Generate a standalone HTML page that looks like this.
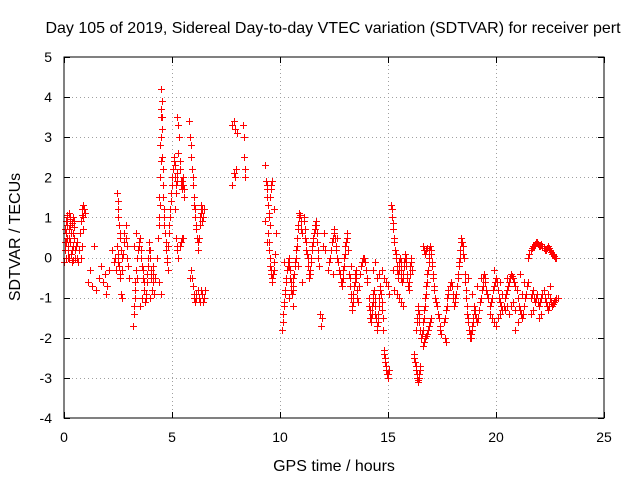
<!DOCTYPE html>
<html><head><meta charset="utf-8"><style>
html,body{margin:0;padding:0;background:#fff;}
svg text{font-family:"Liberation Sans",Arial,sans-serif;font-size:14px;fill:#000;}
svg text.big{font-size:16px;}
</style></head><body>
<svg id="chart" width="640" height="480" viewBox="0 0 640 480" xmlns="http://www.w3.org/2000/svg">
<rect width="640" height="480" fill="#fff"/>
<text class="big" x="333" y="33" text-anchor="middle">Day 105 of 2019, Sidereal Day-to-day VTEC variation (SDTVAR) for receiver pert</text>
<g id="grid"></g>
<g id="ticks"></g>
<g id="points"></g>
<rect x="64" y="57" width="540" height="361" fill="none" stroke="#000" stroke-width="1"/>
<text class="big" x="334" y="471" text-anchor="middle">GPS time / hours</text>
<text class="big" x="20" y="237" text-anchor="middle" transform="rotate(-90 20 237)">SDTVAR / TECUs</text>
</svg>
<script>
const xTicks = [0,5,10,15,20,25];
const yTicks = [-4,-3,-2,-1,0,1,2,3,4,5];
const seriesData = "0.02,-0.1 0.05,0.2 0.08,0.6 0.1,0.9 0.12,1.0 0.15,0.5 0.18,0.0 0.2,0.3 0.22,0.7 0.25,1.1 0.28,0.8 0.3,0.4 0.33,0.1 0.35,-0.1 0.38,0.2 0.4,0.6 0.42,1.0 0.45,0.9 0.48,0.5 0.5,0.2 0.05,0.7 0.1,0.4 0.15,1.05 0.25,0.0 0.3,1.0 0.4,-0.05 0.55,0.3 0.6,0.0 0.65,-0.1 0.7,0.2 0.75,0.6 0.8,0.9 0.85,1.2 0.9,1.3 0.95,1.1 0.88,0.7 0.82,0.3 0.78,0.0 " +
"1.1,-0.6 1.2,-0.3 1.3,-0.7 1.4,0.3 1.5,-0.8 1.6,-0.5 1.7,-0.2 1.8,-0.6 1.9,-0.4 2.0,-0.7 2.1,-0.3 1.95,-0.9 2.2,0.2 2.3,-0.1 " +
"2.45,1.6 2.5,1.4 2.5,1.0 2.55,0.8 2.6,0.5 2.45,0.3 2.5,0.1 2.55,-0.2 2.6,-0.4 2.7,-0.3 2.75,0.1 2.8,0.6 2.85,0.8 2.9,0.3 2.95,-0.2 3.0,-0.5 2.65,-0.9 2.7,-1.0 2.4,-0.3 2.35,0.0 " +
"3.2,-1.7 3.25,-1.4 3.3,-1.0 3.3,-0.6 3.35,-0.3 3.4,0.0 3.45,0.3 3.5,0.5 3.55,0.2 3.6,-0.2 3.65,-0.5 3.7,-0.8 3.75,-1.1 3.8,-0.9 3.85,-0.4 3.9,0.0 3.95,0.4 4.0,0.2 4.05,-0.3 4.1,-0.6 4.15,-0.9 4.2,-0.5 3.5,-1.2 3.6,-1.0 3.25,0.3 3.35,0.6 4.0,-1.0 4.1,-0.2 " +
"4.3,0.0 4.35,0.5 4.4,1.0 4.42,1.5 4.45,2.0 4.45,2.8 4.48,3.5 4.5,4.2 4.52,3.9 4.55,3.2 4.55,2.5 4.6,1.8 4.62,1.2 4.65,0.8 4.7,0.4 4.75,0.0 4.8,-0.3 4.5,-0.9 4.4,-0.6 4.85,0.6 4.9,1.0 4.95,1.4 " +
"5.0,1.8 5.05,2.2 5.1,2.5 5.15,2.0 5.2,1.6 5.25,2.1 5.3,3.3 5.25,3.5 5.35,2.4 5.4,1.9 5.45,1.7 5.5,2.0 5.55,1.5 5.2,0.5 5.25,0.3 5.3,0.0 5.4,0.4 5.5,0.5 5.15,1.2 " +
"5.8,3.4 5.85,3.0 5.9,2.5 5.95,2.0 6.0,1.5 6.05,1.2 6.1,0.8 6.15,0.5 6.2,0.2 6.25,0.5 6.3,1.0 6.35,1.3 6.4,0.9 6.5,1.2 5.9,-0.3 5.95,-0.7 6.0,-0.9 6.05,-1.1 6.1,-1.0 6.2,-0.8 6.3,-1.1 6.4,-0.9 6.5,-1.0 6.55,-0.8 5.85,-0.5 " +
"7.8,1.8 7.85,2.1 7.9,2.0 7.95,2.2 7.8,3.3 7.85,3.4 7.9,3.2 8.0,3.1 8.3,3.3 8.35,3.0 8.35,2.5 8.4,2.2 8.4,2.0 " +
"9.3,2.3 9.35,1.9 9.4,1.7 9.45,1.3 9.5,1.0 9.45,0.6 9.5,0.2 9.55,-0.2 9.6,-0.4 9.65,-0.6 9.7,-0.3 9.75,0.1 9.8,0.6 9.6,1.8 9.55,1.5 9.4,0.4 9.3,0.9 9.7,1.2 " +
"10.1,-1.8 10.15,-1.4 10.2,-1.1 10.25,-0.8 10.3,-0.5 10.35,-0.2 10.4,0.0 10.45,-0.3 10.5,-0.6 10.55,-0.9 10.6,-0.7 10.65,-0.4 10.7,-0.1 10.75,0.2 10.8,0.5 10.85,0.8 10.9,1.1 10.95,0.9 11.0,0.6 10.2,-0.1 10.4,-1.0 10.6,-1.2 10.85,-0.2 11.0,-0.6 " +
"11.1,1.0 11.15,0.7 11.2,0.4 11.25,0.1 11.3,-0.2 11.35,-0.5 11.4,-0.3 11.45,0.0 11.5,0.3 11.55,0.5 11.6,0.7 11.65,0.9 11.7,0.6 11.75,0.2 11.8,-0.2 11.85,-1.4 11.9,-1.7 11.95,-1.5 12.0,0.3 12.05,0.6 12.1,0.2 " +
"12.2,-0.3 12.3,0.0 12.4,0.4 12.5,0.7 12.55,0.5 12.6,0.2 12.7,-0.1 12.8,-0.4 12.85,-0.7 12.9,-0.5 12.95,-0.2 13.0,0.1 13.05,0.4 13.1,0.6 12.45,-0.4 12.65,0.5 " +
"13.2,-0.4 13.25,-0.7 13.3,-1.0 13.35,-1.3 13.4,-0.9 13.45,-0.6 13.5,-0.3 13.55,-0.8 13.6,-1.1 13.7,-0.4 13.8,-0.1 13.9,0.0 14.0,-0.3 14.05,-0.6 13.3,-0.2 13.15,0.2 " +
"14.1,-1.0 14.15,-1.3 14.2,-1.6 14.25,-1.4 14.3,-1.1 14.35,-0.8 14.4,-1.2 14.45,-1.5 14.5,-1.8 14.55,-1.4 14.6,-1.0 14.65,-0.7 14.7,-1.1 14.75,-1.5 14.8,-2.3 14.85,-2.5 14.9,-2.7 14.95,-2.9 15.0,-3.0 15.05,-2.8 14.3,-0.3 14.5,-0.5 14.7,-0.3 14.9,-0.6 15.05,-0.9 14.4,-0.1 " +
"15.15,1.3 15.2,1.0 15.25,0.7 15.3,0.4 15.35,0.1 15.4,-0.2 15.45,-0.5 15.5,-0.3 15.55,0.0 15.6,-0.3 15.65,-0.6 15.7,-0.4 15.75,-0.1 15.8,0.1 15.85,-0.2 15.9,-0.5 15.95,-0.8 16.0,-0.4 16.05,0.0 16.1,-0.3 15.3,-0.8 15.5,-1.0 15.7,-1.2 15.25,-0.3 " +
"16.2,-2.4 16.25,-2.6 16.3,-2.8 16.35,-3.0 16.4,-3.1 16.45,-2.9 16.5,-2.7 16.3,-1.8 16.35,-1.5 16.4,-1.2 16.45,-1.6 " +
"16.55,-2.0 16.6,-1.8 16.65,-1.5 16.7,-1.2 16.75,-0.9 16.8,-0.6 16.85,-0.3 16.9,0.0 16.95,0.3 17.0,0.1 17.05,-0.2 17.1,-0.5 17.15,-0.8 17.2,-1.1 17.3,-1.4 17.4,-1.7 17.45,-1.9 16.6,-2.2 16.7,-2.0 16.8,-1.9 16.9,-1.7 17.0,-1.5 16.6,0.3 16.7,0.1 16.8,0.25 " +
"17.6,-1.6 17.7,-1.3 17.75,-1.0 17.8,-0.8 17.9,-0.6 18.0,-0.9 18.05,-1.2 18.1,-1.0 18.2,-0.7 18.25,-0.4 18.3,-0.1 18.35,0.2 18.4,0.5 18.45,0.3 18.5,0.0 17.65,-2.0 17.7,-2.1 " +
"18.55,-0.4 18.6,-0.8 18.65,-1.2 18.7,-1.5 18.75,-1.8 18.8,-2.0 18.85,-1.9 18.9,-1.7 18.95,-1.5 19.0,-1.2 19.05,-1.4 19.1,-1.6 19.2,-1.3 19.3,-1.0 19.4,-0.7 19.45,-0.4 19.5,-0.6 18.7,-0.5 18.9,-0.9 19.1,-0.7 19.3,-0.5 " +
"19.6,-0.9 19.7,-1.2 19.8,-1.0 19.9,-0.7 20.0,-0.5 20.1,-0.8 20.2,-1.1 20.3,-1.3 20.4,-1.0 20.5,-0.8 20.6,-0.6 20.7,-0.4 20.8,-0.5 20.9,-0.7 21.0,-1.0 21.1,-1.3 21.2,-1.5 21.3,-1.2 21.4,-0.9 21.5,-0.6 19.8,-1.5 20.0,-1.7 20.2,-1.4 20.5,-1.2 20.9,-1.8 21.2,-0.9 20.6,-1.4 19.9,-0.3 20.3,-0.9 21.1,-0.4 20.8,-1.1 " +
"21.5,0.0 21.6,0.2 21.7,0.3 21.8,0.35 21.9,0.4 22.0,0.3 22.1,0.35 22.2,0.25 22.3,0.2 22.4,0.3 22.5,0.2 22.6,0.1 22.7,0.05 22.8,0.0 21.6,-1.0 21.7,-0.8 21.8,-1.1 21.9,-0.9 22.0,-1.2 22.1,-1.0 22.2,-0.8 22.3,-1.1 22.4,-1.3 22.5,-1.0 22.6,-1.2 22.7,-1.1 22.8,-1.0 21.6,-1.4 22.0,-1.5 22.5,-0.7";
const extraData = "0.03,0.4 0.07,0.0 0.13,0.8 0.17,0.2 0.23,0.5 0.27,0.95 0.32,0.6 0.37,0.85 0.43,0.3 0.47,0.75 0.52,0.0 0.58,0.4 0.83,1.05 0.87,1.0 0.92,1.2 " +
"2.52,1.2 2.57,0.6 2.62,0.2 2.48,-0.1 2.58,-0.5 2.68,0.0 2.78,0.4 2.88,0.5 2.92,0.0 3.22,-1.2 3.28,-0.8 3.38,-0.5 3.42,0.2 3.48,0.4 3.58,0.0 3.68,-0.3 3.72,-0.6 3.78,-1.0 3.82,-0.6 3.88,-0.2 3.92,0.2 3.98,0.0 4.02,-0.5 4.08,-0.8 4.12,-0.4 " +
"4.38,0.8 4.43,1.3 4.47,2.4 4.49,3.0 4.51,3.7 4.53,3.5 4.57,2.2 4.6,1.5 4.64,1.0 4.68,0.6 4.72,0.2 4.78,-0.1 4.82,0.3 4.88,0.8 4.92,1.2 4.97,1.6 " +
"5.02,2.0 5.07,2.4 5.12,2.3 5.17,1.8 5.22,1.9 5.28,2.6 5.32,3.0 5.37,2.2 5.42,1.8 5.47,1.9 5.52,1.8 5.57,1.7 5.22,0.2 5.35,0.3 5.45,0.5 " +
"5.88,2.8 5.92,2.2 5.97,1.8 6.02,1.3 6.08,1.0 6.12,0.7 6.22,0.4 6.28,0.8 6.32,1.1 6.38,1.2 6.45,1.0 5.92,-0.5 6.02,-1.0 6.12,-0.9 6.25,-1.0 6.35,-0.8 6.45,-1.1 " +
"9.38,1.8 9.42,1.5 9.48,1.1 9.52,0.8 9.47,0.4 9.53,0.0 9.58,-0.3 9.62,-0.5 9.68,-0.4 9.72,-0.1 9.57,1.7 9.62,1.9 " +
"10.12,-1.6 10.18,-1.2 10.22,-0.9 10.28,-0.6 10.32,-0.3 10.38,-0.1 10.42,-0.2 10.48,-0.5 10.52,-0.8 10.58,-0.8 10.62,-0.5 10.68,-0.2 10.72,0.0 10.78,0.3 10.82,0.7 10.88,1.0 10.92,1.05 10.98,0.7 " +
"11.12,0.9 11.18,0.5 11.22,0.2 11.28,0.0 11.32,-0.4 11.38,-0.4 11.42,-0.1 11.48,0.2 11.52,0.4 11.58,0.6 11.62,0.8 11.68,0.8 11.72,0.4 11.78,0.0 " +
"12.25,-0.1 12.35,0.2 12.45,0.5 12.52,0.6 12.58,0.3 12.65,0.0 12.75,-0.3 12.82,-0.6 12.88,-0.6 12.92,-0.3 12.98,0.0 13.02,0.3 13.08,0.5 " +
"13.22,-0.5 13.28,-0.9 13.32,-1.2 13.38,-1.1 13.42,-0.7 13.48,-0.4 13.52,-0.5 13.58,-1.0 13.65,-0.7 13.75,-0.2 13.85,0.0 13.95,-0.1 14.02,-0.5 " +
"14.12,-1.2 14.18,-1.5 14.22,-1.5 14.28,-1.2 14.32,-0.9 14.38,-1.0 14.42,-1.4 14.48,-1.7 14.52,-1.6 14.58,-1.2 14.62,-0.8 14.68,-0.9 14.72,-1.3 14.78,-1.8 14.82,-2.4 14.88,-2.6 14.92,-2.8 14.98,-3.0 15.02,-2.9 14.6,-0.4 14.8,-0.5 15.0,-0.7 " +
"15.17,1.2 15.22,0.85 15.28,0.5 15.32,0.2 15.38,0.0 15.42,-0.3 15.48,-0.4 15.52,-0.1 15.58,-0.1 15.62,-0.5 15.68,-0.5 15.72,-0.2 15.78,0.0 15.82,0.0 15.88,-0.4 15.92,-0.7 15.98,-0.6 16.02,-0.2 16.08,-0.1 15.4,-0.9 15.6,-1.1 " +
"16.22,-2.5 16.28,-2.7 16.32,-2.9 16.38,-3.05 16.42,-3.0 16.48,-2.8 16.32,-1.6 16.38,-1.3 16.42,-1.4 16.48,-1.8 " +
"16.58,-1.9 16.62,-1.6 16.68,-1.3 16.72,-1.0 16.78,-0.7 16.82,-0.4 16.88,-0.1 16.92,0.2 16.98,0.2 17.02,-0.1 17.08,-0.4 17.12,-0.7 17.18,-1.0 17.25,-1.2 17.35,-1.5 17.42,-1.8 16.65,-2.1 16.75,-1.95 16.85,-1.8 16.95,-1.6 16.65,0.2 16.75,0.2 " +
"17.65,-1.5 17.72,-1.2 17.78,-0.9 17.85,-0.7 17.95,-0.7 18.02,-1.0 18.08,-1.1 18.15,-0.9 18.22,-0.5 18.28,-0.2 18.32,0.0 18.38,0.4 18.42,0.4 18.48,0.1 " +
"18.58,-0.6 18.62,-1.0 18.68,-1.4 18.72,-1.6 18.78,-1.9 18.82,-2.0 18.88,-1.8 18.92,-1.6 18.98,-1.3 19.02,-1.3 19.08,-1.5 19.15,-1.5 19.25,-1.1 19.35,-0.8 19.42,-0.5 19.48,-0.5 " +
"19.55,-0.8 19.65,-1.0 19.75,-1.1 19.85,-0.8 19.95,-0.6 20.05,-0.6 20.15,-1.0 20.25,-1.2 20.35,-1.2 20.45,-0.9 20.55,-0.7 20.65,-0.5 20.75,-0.45 20.85,-0.6 20.95,-0.8 21.05,-1.2 21.15,-1.4 21.25,-1.4 21.35,-1.0 21.45,-0.7 19.7,-1.4 19.9,-1.6 20.1,-1.5 20.4,-1.3 20.7,-1.2 21.0,-1.6 21.3,-0.6 20.2,-0.6 20.5,-0.5 20.9,-1.3 " +
"21.55,0.1 21.65,0.25 21.75,0.3 21.85,0.4 21.95,0.35 22.05,0.3 22.15,0.3 22.25,0.2 22.35,0.25 22.45,0.25 22.55,0.15 22.65,0.1 22.75,0.0 21.65,-0.9 21.75,-1.0 21.85,-1.0 21.95,-1.1 22.05,-1.1 22.15,-0.9 22.25,-1.0 22.35,-1.2 22.45,-1.2 22.55,-1.1 22.65,-1.15 22.75,-1.05 22.85,-1.0 21.7,-1.3 22.1,-1.4 22.4,-0.9";
const allData = (seriesData + " " + extraData).trim().split(/\s+/);
const pointsT = allData.map(p => +p.split(',')[0]);
const pointsV = allData.map(p => +p.split(',')[1]);

const NS = "http://www.w3.org/2000/svg";
const L = 64, R = 604, T = 57, B = 418;
const xMin = 0, xMax = 25, yMin = -4, yMax = 5;
function sx(v){ return L + (v - xMin) / (xMax - xMin) * (R - L); }
function sy(v){ return B - (v - yMin) / (yMax - yMin) * (B - T); }
function mk(tag, attrs){ const e = document.createElementNS(NS, tag); for (const k in attrs) e.setAttribute(k, attrs[k]); return e; }

const grid = document.getElementById('grid');
const ticks = document.getElementById('ticks');
xTicks.forEach(t => {
  const x = Math.round(sx(t)) + 0.5;
  if (t > xMin && t < xMax) {
    const g = mk('line', {x1:x, x2:x, y1:T, y2:B, stroke:'#a0a0a0', 'stroke-dasharray':'1,3'});
    
    
    grid.appendChild(g);
  }
  const tk = mk('path', {d:`M${x},${B}v-6M${x},${T}v6`, stroke:'#000'});
  
  
  ticks.appendChild(tk);
  const lb = mk('text', {x:sx(t), y:B + 24, 'text-anchor':'middle'});
  lb.textContent = t;
  
  
  ticks.appendChild(lb);
});
yTicks.forEach(t => {
  const y = Math.round(sy(t)) + 0.5;
  if (t > yMin && t < yMax) {
    const g = mk('line', {x1:L, x2:R, y1:y, y2:y, stroke:'#a0a0a0', 'stroke-dasharray':'1,3'});
    
    
    grid.appendChild(g);
  }
  const tk = mk('path', {d:`M${L},${y}h6M${R},${y}h-6`, stroke:'#000'});
  
  
  ticks.appendChild(tk);
  const lb = mk('text', {x:L - 12, y:sy(t) + 5, 'text-anchor':'end'});
  lb.textContent = t;
  
  
  ticks.appendChild(lb);
});

const pts = document.getElementById('points');
let d = '';
for (let i = 0; i < pointsT.length; i++) {
  const x = Math.round(sx(pointsT[i])) + 0.5, y = Math.round(sy(pointsV[i])) + 0.5;
  d += `M${x-3.5},${y}h7M${x},${y-3.5}v7`;
}
const path = mk('path', {d:d, stroke:'#ff0000', 'stroke-width':1, fill:'none'});


pts.appendChild(path);
</script>
</body></html>
